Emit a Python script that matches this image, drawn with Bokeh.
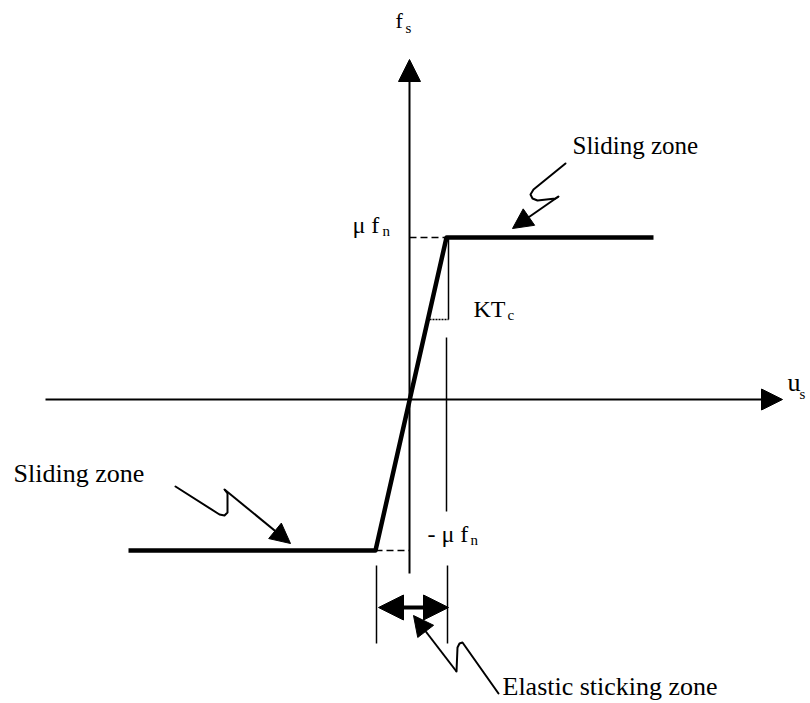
from bokeh.plotting import figure
from bokeh.models import Range1d, ColumnDataSource, Arrow, NormalHead
from bokeh.core.properties import value
from bokeh.embed import file_html
from bokeh.resources import INLINE

# ---- diagram data (origin at axis crossing, u to the right, f upward) ----
axis_u = [-364, 373]
axis_f = [-174, 340]

# friction law: sliding / elastic sticking / sliding
law_u = [-281, -34, 37, 244]
law_f = [-151, -151, 162, 162]

# dashed leaders to the f-axis (mu f_n and -mu f_n levels)
lead_u0 = [0, -34]
lead_u1 = [37, 0]
lead_f = [162, -151]

# thin reference lines (slope triangle, zone boundaries)
ref_u = [39, 37, 38, -33]
ref_f0 = [162, 62, -166, -166]
ref_f1 = [80, -112, -244, -244]
tri_u = [20, 39]
tri_f = [80, 80]

# elastic sticking zone double arrow
zone_u = [-31, 39]
zone_f = -208

# wavy pointer arrows
zig_top_u = [156, 124, 121, 123, 128, 146, 149]
zig_top_f = [236, 210, 205, 201, 199, 201, 203]
zig_left_u = [-234, -190, -185, -182, -182, -185]
zig_left_f = [-87, -115, -116, -113, -94, -90]
zig_bot_u = [89, 53, 50, 48, 47]
zig_bot_f = [-294, -243, -244, -248, -272]
zig_tip_u = [103, -119, 4]
zig_tip_f = [171, -144, -216]

# labels
lab_text = ["f", "u", "\u03bc f", "- \u03bc f", "KT", "Sliding zone", "Sliding zone", "Elastic sticking zone"]
lab_u = [-14, 378, -57, 18, 64, 163, -396, 93]
lab_f = [379, 17, 175, -134, 91, 254, -74, -287]
lab_size = ["22px", "26px", "24px", "24px", "24px", "25px", "26px", "26px"]
sub_text = ["s", "s", "n", "n", "c"]
sub_u = [-4, 390, -27, 61, 98]
sub_f = [372, 6, 169, -140, 85]

FONT = value("Liberation Serif")

p = figure(width=810, height=703, output_backend="svg", toolbar_location=None,
           x_range=Range1d(-409, 401), y_range=Range1d(-304, 399),
           min_border=0, background_fill_color="white", border_fill_color="white")
p.axis.visible = False
p.grid.visible = False
p.outline_line_color = None

# axes with arrowheads
p.add_layout(Arrow(x_start=axis_u[0], y_start=0, x_end=axis_u[1], y_end=0,
                   line_width=2, line_color="black",
                   end=NormalHead(size=21, fill_color="black", line_color="black")))
p.add_layout(Arrow(x_start=0, y_start=axis_f[0], x_end=0, y_end=axis_f[1],
                   line_width=2, line_color="black",
                   end=NormalHead(size=22, fill_color="black", line_color="black")))

# friction law
p.line(law_u, law_f, line_width=4.5, line_color="black", line_join="round")

# dashed leaders
p.segment(x0=lead_u0, y0=lead_f, x1=lead_u1, y1=lead_f, line_width=1.5,
          line_color="black", line_dash="7 4")

# thin reference lines
p.segment(x0=ref_u, y0=ref_f0, x1=ref_u, y1=ref_f1, line_width=1.5, line_color="black")
p.line(tri_u, tri_f, line_width=1.5, line_color="black", line_dash="2 1")

# elastic sticking zone double arrow
p.add_layout(Arrow(x_start=zone_u[0], y_start=zone_f, x_end=zone_u[1], y_end=zone_f,
                   line_width=4, line_color="black",
                   start=NormalHead(size=25, fill_color="black", line_color="black"),
                   end=NormalHead(size=25, fill_color="black", line_color="black")))

# wavy pointers
for zu, zf in [(zig_top_u, zig_top_f), (zig_left_u, zig_left_f), (zig_bot_u, zig_bot_f)]:
    p.line(zu, zf, line_width=2, line_color="black", line_join="round", line_cap="round")
head_src = ColumnDataSource(dict(
    x0=[zig_top_u[-1], zig_left_u[-1], zig_bot_u[-1]],
    y0=[zig_top_f[-1], zig_left_f[-1], zig_bot_f[-1]],
    x1=zig_tip_u, y1=zig_tip_f))
p.add_layout(Arrow(source=head_src, x_start="x0", y_start="y0", x_end="x1", y_end="y1",
                   line_width=2, line_color="black",
                   end=NormalHead(size=20, fill_color="black", line_color="black")))

# labels
p.text(x=lab_u, y=lab_f, text=lab_text, text_font=FONT, text_font_size=lab_size,
       text_color="black", text_align="left", text_baseline="alphabetic")
p.text(x=sub_u, y=sub_f, text=sub_text, text_font=FONT, text_font_size="15px",
       text_color="black", text_align="left", text_baseline="alphabetic")

open("out.html", "w").write(file_html(p, INLINE))
